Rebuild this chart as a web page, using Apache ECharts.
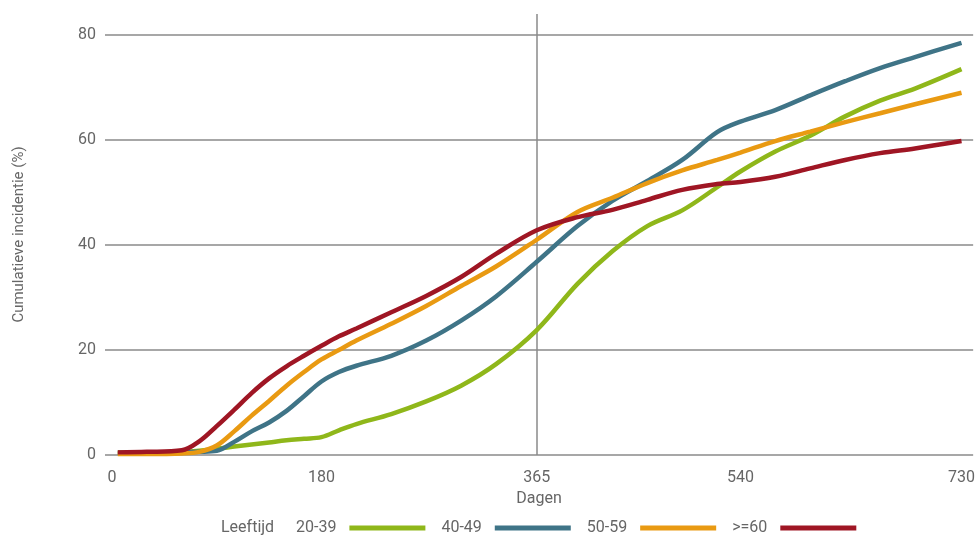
<!DOCTYPE html>
<html>
<head>
<meta charset="utf-8">
<script src="https://cdn.jsdelivr.net/npm/echarts@6/dist/echarts.min.js"></script>
<style>
html,body{margin:0;padding:0;background:#fff;}
#chart{width:978px;height:536px;}
</style>
</head>
<body>
<div id="chart"></div>
<script>
// ---- data ----
var days = [5, 30, 60, 75, 90, 105, 120, 135, 150, 165, 180, 195, 210, 240, 270, 300, 330, 365, 400, 430, 460, 490, 520, 540, 570, 600, 630, 660, 690, 730];
var age20_39 = [0.5, 0.5, 0.6, 0.8, 1.2, 1.6, 2.0, 2.4, 2.8, 3.1, 3.4, 4.7, 5.9, 7.8, 10.2, 13.2, 17.3, 23.8, 32.6, 38.8, 43.6, 46.6, 51.0, 54.0, 57.8, 60.8, 64.5, 67.5, 69.8, 73.5];
var age40_49 = [0.4, 0.4, 0.5, 0.6, 0.8, 2.5, 4.5, 6.2, 8.4, 11.2, 14.0, 15.8, 17.0, 18.9, 21.8, 25.6, 30.2, 36.8, 43.6, 48.4, 52.2, 56.2, 61.5, 63.5, 65.7, 68.5, 71.2, 73.7, 75.8, 78.5];
var age50_59 = [0.2, 0.2, 0.3, 0.6, 1.8, 4.5, 7.5, 10.3, 13.2, 15.8, 18.2, 20.0, 21.8, 25.0, 28.4, 32.2, 35.9, 41.0, 46.3, 49.0, 51.8, 54.2, 56.2, 57.6, 59.8, 61.6, 63.4, 65.1, 66.8, 69.0];
var age60plus = [0.5, 0.6, 0.9, 2.6, 5.5, 8.6, 11.8, 14.6, 16.9, 18.9, 20.8, 22.6, 24.1, 27.2, 30.3, 33.9, 38.3, 42.8, 45.3, 46.7, 48.6, 50.5, 51.6, 52.0, 53.0, 54.6, 56.2, 57.5, 58.4, 59.8];
var seriesNames = ['20-39', '40-49', '50-59', '>=60'];
var xTicks = [0, 180, 365, 540, 730];
var refDay = [365];
var yTitle = 'Cumulatieve incidentie (%)';
var xTitle = 'Dagen';
var legendTitle = 'Leeftijd';

var colors = ['#8fb71a', '#3f7487', '#e99a12', '#9f1624'];
var allValues = [age20_39, age40_49, age50_59, age60plus];

function pairs(vals) {
  return days.map(function (d, i) { return [d, vals[i]]; });
}

var FONT = 'Roboto, "Liberation Sans", sans-serif';
var TXT = '#666666';
var FS = 16;

var series = allValues.map(function (vals, i) {
  var s = {
    name: seriesNames[i],
    type: 'line',
    data: pairs(vals),
    smooth: 0.35,
    showSymbol: false,
    symbol: 'none',
    lineStyle: { width: 4.5, color: colors[i] },
    itemStyle: { color: colors[i] },
    z: 3 + i
  };
  if (i === 0) {
    s.markLine = {
      silent: true,
      symbol: 'none',
      label: { show: false },
      lineStyle: { color: '#8a8a8a', width: 1.5, type: 'solid' },
      data: refDay.map(function (d) { return { xAxis: d }; }),
      z: 1
    };
  }
  return s;
});

var chart = echarts.init(document.getElementById('chart'), null, { renderer: 'canvas' });
chart.setOption({
  animation: false,
  backgroundColor: '#ffffff',
  title: {
    text: legendTitle,
    left: 221,
    top: 520,
    padding: 0,
    textStyle: { fontFamily: FONT, fontSize: FS, fontWeight: 'normal', color: TXT }
  },
  legend: {
    data: seriesNames,
    left: 296,
    top: 520,
    padding: 0,
    align: 'right',
    icon: 'rect',
    itemWidth: 76,
    itemHeight: 5,
    itemGap: 16,
    textStyle: { fontFamily: FONT, fontSize: FS, color: TXT, padding: [0, 8, 0, 0] }
  },
  grid: { left: 105, right: 3, top: 14, bottom: 81, containLabel: false },
  xAxis: {
    type: 'value',
    min: -6,
    max: 740,
    name: xTitle,
    nameLocation: 'middle',
    nameGap: 34,
    nameTextStyle: { fontFamily: FONT, fontSize: FS, color: TXT },
    axisLine: { show: false },
    axisTick: { show: false },
    splitLine: { show: false },
    axisLabel: {
      customValues: xTicks,
      margin: 15,
      fontFamily: FONT, fontSize: FS, color: TXT
    }
  },
  yAxis: {
    type: 'value',
    min: 0,
    max: 84,
    interval: 20,
    name: yTitle,
    nameLocation: 'middle',
    nameGap: 78,
    nameTextStyle: { fontFamily: FONT, fontSize: 15, color: TXT },
    axisLine: { show: false },
    axisTick: { show: false },
    axisLabel: { margin: 9, showMaxLabel: false, fontFamily: FONT, fontSize: FS, color: TXT },
    splitLine: { show: true, showMaxLine: false, lineStyle: { color: '#8a8a8a', width: 1.5 } }
  },
  series: series
});
</script>
</body>
</html>
